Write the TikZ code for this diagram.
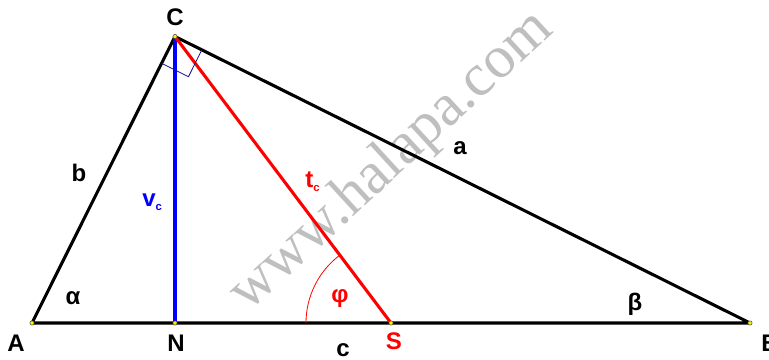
\documentclass[tikz,border=0pt]{standalone}
\usepackage{fontspec}
\setmainfont{Liberation Sans}
\newfontfamily\wmfont{Liberation Serif}
\usetikzlibrary{angles,calc}

\definecolor{navy}{RGB}{20,20,150}
\newcommand\lowsub[1]{\raisebox{-3pt}{\fontsize{8.5}{9}\selectfont #1}}

\begin{document}
\begin{tikzpicture}[x=0.75pt,y=0.75pt,font=\fontsize{18}{20}\selectfont\bfseries,
  side/.style={line width=2.3pt},
  lbl/.style={anchor=base,inner sep=0pt},
  dot/.style={fill=yellow,draw=black!70,line width=0.4pt}]
  \useasboundingbox (0,0) rectangle (769,360);
  % vertices
  \coordinate (A) at (32,37);
  \coordinate (B) at (750,37);
  \coordinate (C) at (175,323.5);
  \coordinate (N) at (175,37);
  \coordinate (S) at (391,37);
  % watermark
  \node[anchor=base west,inner sep=0pt,rotate=42.5,text=black!25,
    font=\wmfont\fontsize{45}{45}\selectfont] (wm) at (248,47) {www.halapa.com};
  % sides, height, median
  \draw[side,line join=round] (A) -- (B) -- (C) -- cycle;
  \draw[side,blue] (C) -- (N);
  \draw[side,red] (C) -- (S);
  % angle marks
  \pic[draw=navy,line width=0.6pt,angle radius=22.5pt] {right angle=A--C--B};
  \pic[draw=red,line width=0.6pt,angle radius=63.75pt] {angle=C--S--A};
  \foreach \p in {A,B,C,N,S}
    \filldraw[dot] (\p) circle (1.6pt);
  % labels: name/x/y/colour/text
  \foreach \nm/\x/\y/\col/\txt in {
    lA/16/8/black/A, lN/176/8/black/N, lS/394/10/red/S, lC/175/334/black/C,
    lc/343/3/black/c, la/460/205/black/a, lb/79/178/black/b,
    lal/73/55/black/α, lbe/635/49/black/β, lphi/340/57/red/φ}{
    \node[lbl,text=\col] (\nm) at (\x,\y) {\txt};
  }
  \node[lbl,anchor=base west] (lB) at (761,8) {B};
  \node[lbl,anchor=base west,text=red] (ltc) at (305,172) {t\lowsub{c}};
  \node[lbl,anchor=base west,text=blue] (lvc) at (142,153) {v\lowsub{c}};
\end{tikzpicture}
\end{document}
